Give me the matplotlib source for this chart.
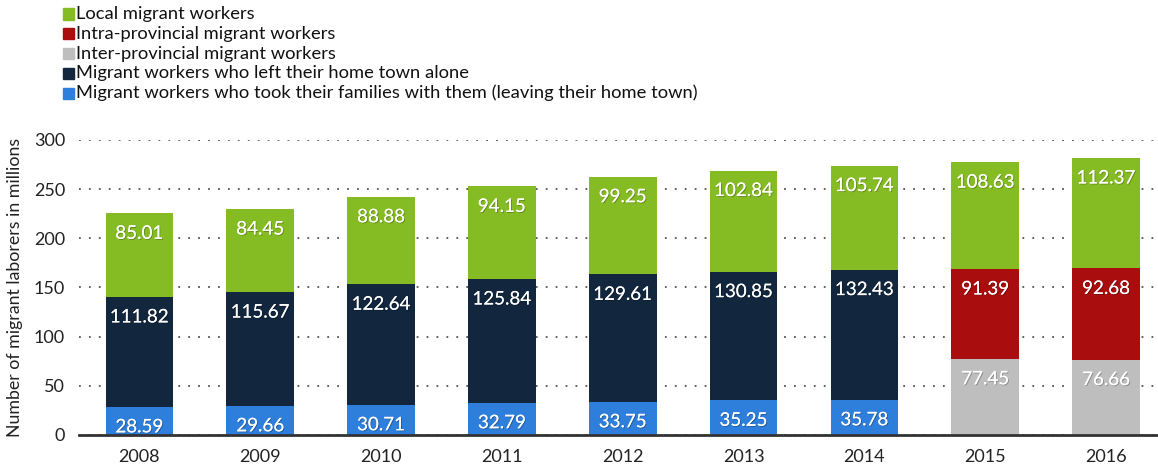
import numpy as np
import matplotlib.pyplot as plt
import matplotlib.patheffects as pe
from matplotlib.patches import Rectangle

plt.rcParams['font.family'] = ['Lato', 'DejaVu Sans']

# Datos (millones de trabajadores migrantes)
years = ["2008", "2009", "2010", "2011", "2012", "2013", "2014", "2015", "2016"]
family = [28.59, 29.66, 30.71, 32.79, 33.75, 35.25, 35.78, np.nan, np.nan]
alone = [111.82, 115.67, 122.64, 125.84, 129.61, 130.85, 132.43, np.nan, np.nan]
inter_prov = [np.nan] * 7 + [77.45, 76.66]
intra_prov = [np.nan] * 7 + [91.39, 92.68]
local = [85.01, 84.45, 88.88, 94.15, 99.25, 102.84, 105.74, 108.63, 112.37]

legend_labels = [
    "Local migrant workers",
    "Intra-provincial migrant workers",
    "Inter-provincial migrant workers",
    "Migrant workers who left their home town alone",
    "Migrant workers who took their families with them (leaving their home town)",
]

c_local = "#86bc23"
c_intra = "#a90d0e"
c_inter = "#bebebe"
c_alone = "#12263e"
c_family = "#2e7edb"

fig = plt.figure(figsize=(11.58, 4.72), dpi=100)
ax = fig.add_axes([0.0682, 0.0784, 0.9318, 0.625])

x = np.arange(len(years))
w = 0.56

# orden de apilado: abajo -> arriba
stack = [(family, c_family), (alone, c_alone),
         (inter_prov, c_inter), (intra_prov, c_intra),
         (local, c_local)]

bottom = np.zeros(len(years))
shadow = [pe.withSimplePatchShadow(offset=(0.7, -0.7), shadow_rgbFace="k", alpha=0.25), pe.Normal()]
for vals, col in stack:
    v = np.array(vals, dtype=float)
    mask = ~np.isnan(v)
    ax.bar(x[mask], v[mask], w, bottom=bottom[mask], color=col, zorder=2)
    for xi, b, h in zip(x[mask], bottom[mask], v[mask]):
        ax.annotate(f"{h:.2f}", (xi, b + h), xytext=(0, -14.4),
                    textcoords="offset points", ha="center", va="center",
                    color="white", fontsize=13.5, zorder=3, path_effects=shadow)
    bottom[mask] += v[mask]

ax.set_xlim(-0.5, 8.43)
ax.set_ylim(0, 300)
ax.set_yticks([0, 50, 100, 150, 200, 250, 300])
ax.set_xticks(x)
ax.set_xticklabels(years)
ax.yaxis.grid(True, linestyle=(0, (1, 4.5)), color="#555555", linewidth=1.3, zorder=0)
ax.set_axisbelow(True)
for s in ["top", "right", "left"]:
    ax.spines[s].set_visible(False)
ax.spines["bottom"].set_linewidth(2)
ax.spines["bottom"].set_color("#333333")
ax.tick_params(axis="both", length=0, labelsize=13, colors="#222222")
ax.tick_params(axis="x", pad=10)
ax.tick_params(axis="y", pad=10)
ax.set_ylabel("Number of migrant laborers in millions", fontsize=12.8, color="#222222", labelpad=8)

# leyenda manual arriba a la izquierda
colors_leg = [c_local, c_intra, c_inter, c_alone, c_family]
for i, (lab, col) in enumerate(zip(legend_labels, colors_leg)):
    yc = 1 - (14 + i * 19.8) / 472
    fig.patches.append(Rectangle((63 / 1158, yc - 5.5 / 472), 11 / 1158, 11 / 472,
                                 transform=fig.transFigure, color=col))
    fig.text(76 / 1158, yc, lab, fontsize=13.2, va="center", ha="left", color="#111111")

plt.savefig("out.png", dpi=100)
